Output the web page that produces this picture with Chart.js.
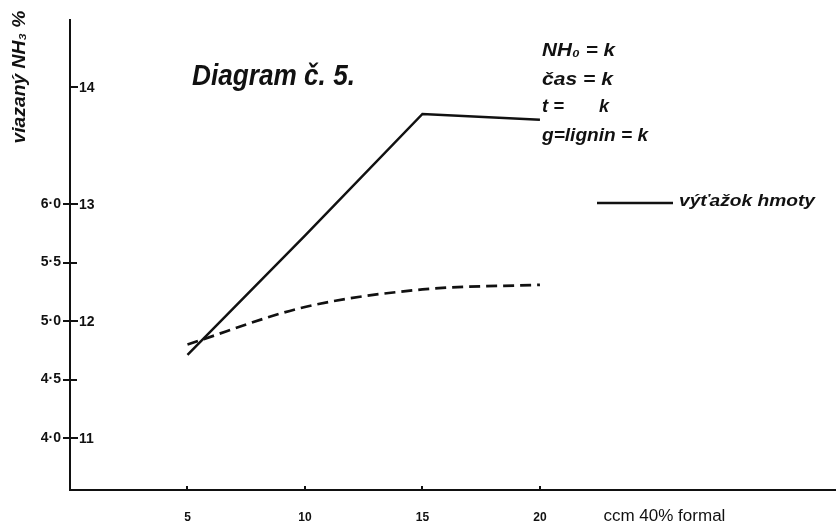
<!DOCTYPE html>
<html><head><meta charset="utf-8">
<script src="https://cdn.jsdelivr.net/npm/chart.js@4.4.1/dist/chart.umd.min.js"></script>
<style>html,body{margin:0;padding:0;background:#fff}#wrap{width:836px;height:527px}</style>
</head><body><div id="wrap"><canvas id="c" width="836" height="527"></canvas></div>
<script>
// ---- data ----
const xValues = [5, 10, 15, 20];                       // ccm 40% formal
const yieldValues = [11.71, 12.73, 13.77, 13.72];       // výťažok hmoty (right-hand numbers 11–14)
const nh3Values = [4.80, 5.12, 5.27, 5.31];             // viazaný NH3 % (left-hand numbers 4·0–6·0)
const xTickValues = [5, 10, 15, 20];
const xTickLabels = ['5', '10', '15', '20'];
const leftTickValues = [4.0, 4.5, 5.0, 5.5, 6.0];
const leftTickLabels = ['4·0', '4·5', '5·0', '5·5', '6·0'];
const rightTickValues = [11, 12, 13, 14];
const rightTickLabels = ['11', '12', '13', '14'];
const titleText = 'Diagram č. 5.';
const yAxisTitle = 'viazaný NH₃ %';
const xAxisTitle = 'ccm 40% formal';
const conditionLines = ['NH₀ = k', 'čas = k', 't =', 'g=lignin = k'];
const legendLabel = 'výťažok hmoty';

const FONT = "'Liberation Sans', Arial, sans-serif";
const INK = '#111';

function fitText(ctx, text, x, y, font, targetW, align) {
  ctx.save();
  ctx.font = font;
  const w = ctx.measureText(text).width;
  const s = targetW / w;
  ctx.translate(x, y);
  ctx.scale(s, 1);
  ctx.textAlign = align || 'left';
  ctx.fillText(text, 0, 0);
  ctx.restore();
}

const decor = {
  id: 'decor',
  afterDraw(chart) {
    const ctx = chart.ctx;
    const ca = chart.chartArea;
    const yL = chart.scales.y, yR = chart.scales.yR, xs = chart.scales.x;
    ctx.save();
    ctx.fillStyle = INK;
    ctx.strokeStyle = INK;
    ctx.lineWidth = 2;
    // inner tick stubs
    ctx.beginPath();
    leftTickValues.forEach(v => { const p = Math.round(yL.getPixelForValue(v)); ctx.moveTo(ca.left, p); ctx.lineTo(ca.left + 7, p); });
    rightTickValues.forEach(v => { const p = Math.round(yR.getPixelForValue(v)); ctx.moveTo(ca.left, p); ctx.lineTo(ca.left + 8, p); });
    xTickValues.forEach(v => { const p = Math.round(xs.getPixelForValue(v)); ctx.moveTo(p, ca.bottom); ctx.lineTo(p, ca.bottom - 4); });
    ctx.stroke();
    // right-hand numbers
    ctx.font = 'bold 14px ' + FONT;
    ctx.textBaseline = 'middle';
    ctx.textAlign = 'left';
    rightTickValues.forEach((v, i) => ctx.fillText(rightTickLabels[i], ca.left + 9, yR.getPixelForValue(v) + 1));
    // x axis title
    fitText(ctx, xAxisTitle, xs.getPixelForValue(22.7), ca.bottom + 27, '16px ' + FONT, 122);
    // title
    ctx.textBaseline = 'alphabetic';
    fitText(ctx, titleText, 192, 85, 'bold italic 30px ' + FONT, 163);
    // y axis title (rotated)
    ctx.save();
    ctx.translate(20, 77);
    ctx.rotate(-Math.PI / 2);
    ctx.textBaseline = 'middle';
    fitText(ctx, yAxisTitle, 0, 0, 'bold italic 19px ' + FONT, 133, 'center');
    ctx.restore();
    // constant conditions
    ctx.textBaseline = 'middle';
    const cy = [51, 80, 107, 136];
    const cw = [73, 71, 22, 106];
    conditionLines.forEach((t, i) => fitText(ctx, t, 542, cy[i], 'bold italic 18px ' + FONT, cw[i]));
    ctx.font = 'bold italic 18px ' + FONT;
    ctx.textAlign = 'left';
    ctx.fillText('k', 599, cy[2]);
    // legend
    ctx.lineWidth = 2.5;
    ctx.beginPath();
    ctx.moveTo(597, 203); ctx.lineTo(673, 203);
    ctx.stroke();
    fitText(ctx, legendLabel, 679, 201, 'bold italic 17px ' + FONT, 136);
    ctx.restore();
  }
};

new Chart(document.getElementById('c').getContext('2d'), {
  type: 'line',
  data: {
    datasets: [
      { label: legendLabel, data: xValues.map((x, i) => ({ x, y: yieldValues[i] })), yAxisID: 'yR',
        borderColor: INK, borderWidth: 2.5, pointRadius: 0, tension: 0, fill: false },
      { label: 'viazaný NH₃ %', data: xValues.map((x, i) => ({ x, y: nh3Values[i] })), yAxisID: 'y',
        borderColor: INK, borderWidth: 2.7, borderDash: [11, 6], pointRadius: 0,
        cubicInterpolationMode: 'monotone', fill: false }
    ]
  },
  options: {
    responsive: false, animation: false, devicePixelRatio: 1,
    layout: { padding: { top: 20, left: 0, right: 0, bottom: 0 } },
    plugins: { legend: { display: false }, tooltip: { enabled: false } },
    scales: {
      x: {
        type: 'linear', min: 0, max: 32.6,
        afterBuildTicks: s => { s.ticks = xTickValues.map(v => ({ value: v })); },
        afterFit: s => { s.height = 37; },
        grid: { display: true, drawOnChartArea: false, drawTicks: false },
        border: { display: true, color: INK, width: 2 },
        ticks: { padding: 20, color: INK, autoSkip: false, maxRotation: 0,
          font: { family: FONT, size: 12, weight: 'bold' },
          callback: v => { const i = xTickValues.indexOf(v); return i >= 0 ? xTickLabels[i] : ''; } }
      },
      y: {
        type: 'linear', position: 'left', min: 3.556, max: 7.573,
        afterBuildTicks: s => { s.ticks = leftTickValues.map(v => ({ value: v })); },
        afterFit: s => { s.width = 70; },
        grid: { display: true, drawOnChartArea: false, drawTicks: true, tickLength: 7, color: INK, lineWidth: 2 },
        border: { display: true, color: INK, width: 2 },
        ticks: { padding: 2, color: INK, font: { family: FONT, size: 14, weight: 'bold' },
          callback: v => { const i = leftTickValues.findIndex(t => Math.abs(t - v) < 1e-6); return i >= 0 ? leftTickLabels[i] : ''; } }
      },
      yR: { type: 'linear', display: false, min: 10.556, max: 14.573 }
    }
  },
  plugins: [decor]
});
</script>
</body></html>
